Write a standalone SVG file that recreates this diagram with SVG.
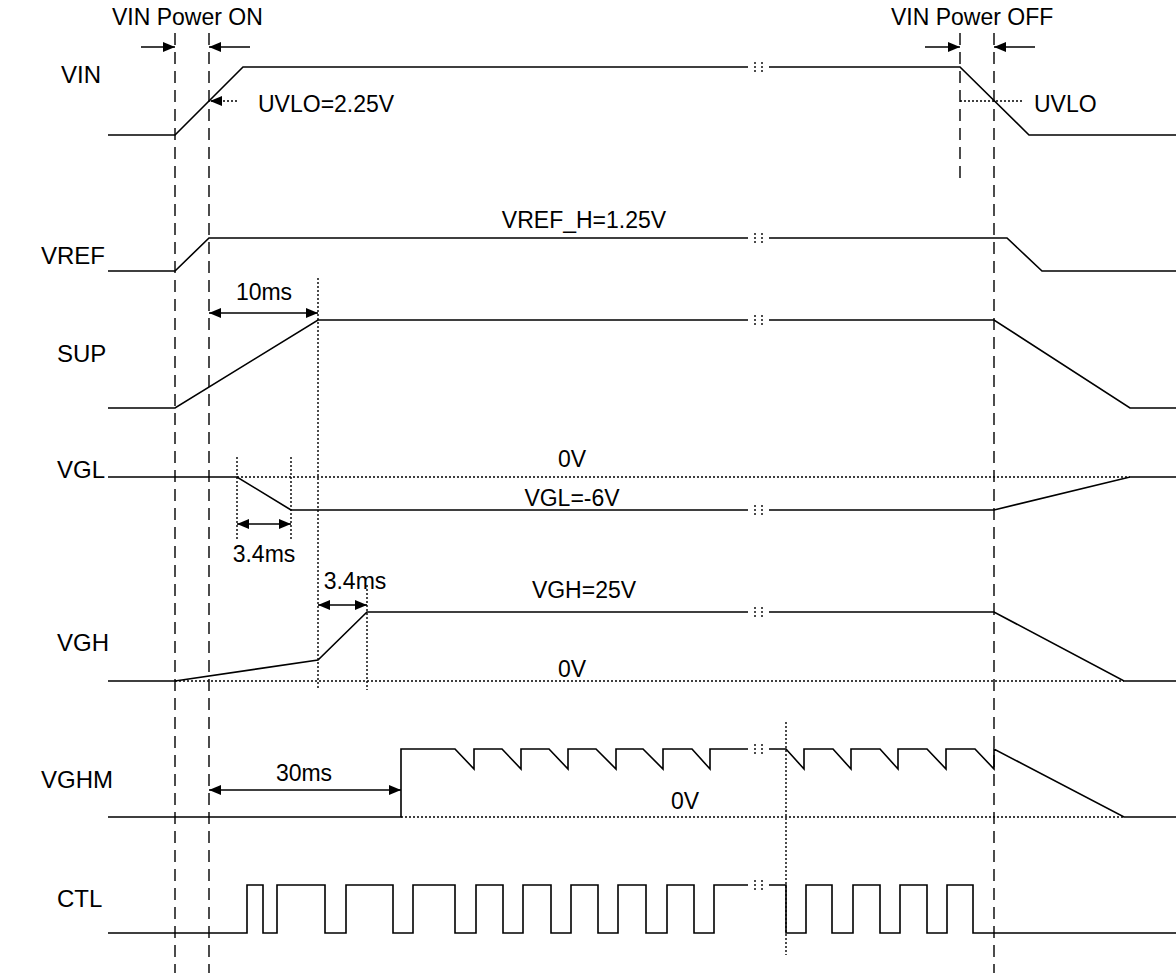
<svg xmlns="http://www.w3.org/2000/svg" width="1176" height="973" viewBox="0 0 1176 973">
<style>
.w{fill:none;stroke:#000;stroke-width:1.6;stroke-linejoin:miter}
.da{fill:none;stroke:#000;stroke-width:1.4;stroke-dasharray:12,7}
.dt{fill:none;stroke:#000;stroke-width:1.4;stroke-dasharray:2,2}
.ar{fill:none;stroke:#000;stroke-width:1.6}
.lb{font-family:"Liberation Sans",Arial,sans-serif;font-size:24px;fill:#000}
.tx{font-family:"Liberation Sans",Arial,sans-serif;font-size:23px;fill:#000}
</style>
<defs>
<marker id="ah" viewBox="0 0 12 10" refX="12" refY="5" markerWidth="12" markerHeight="10" orient="auto-start-reverse" markerUnits="userSpaceOnUse"><path d="M0,0 L12,5 L0,10 z" fill="#000"/></marker>
</defs>
<rect width="1176" height="973" fill="#fff"/>
<g id="guides">
<line class="da" x1="175" y1="33" x2="175" y2="973"/>
<line class="da" x1="209" y1="33" x2="209" y2="973"/>
<line class="da" x1="960" y1="33" x2="960" y2="185"/>
<line class="da" x1="994" y1="33" x2="994" y2="973"/>
<line class="dt" x1="318" y1="278" x2="318" y2="690"/>
<line class="dt" x1="237" y1="457" x2="237" y2="540"/>
<line class="dt" x1="291" y1="457" x2="291" y2="540"/>
<line class="dt" x1="367" y1="585" x2="367" y2="690"/>
<line class="dt" x1="786" y1="722" x2="786" y2="955"/>
<line class="dt" x1="960" y1="101" x2="1022" y2="101"/>
<line class="dt" x1="237" y1="477" x2="1130" y2="477"/>
<line class="dt" x1="175" y1="681" x2="1124" y2="681"/>
<line class="dt" x1="401" y1="817" x2="1124" y2="817"/>
</g>
<g id="VIN">
<text class="lb" x="61" y="83">VIN</text>
<path class="w" d="M108,135 H175 L243,67 H748 M769,67 H960 L1029,135 H1176"/>
<path class="dt" d="M755,62 V72 M762,62 V72"/>
</g>
<g id="VREF">
<text class="lb" x="41" y="264">VREF</text>
<path class="w" d="M108,271 H175 L209,238 H748 M769,238 H1007 L1042,271 H1176"/>
<path class="dt" d="M755,233 V243 M762,233 V243"/>
</g>
<g id="SUP">
<text class="lb" x="57" y="362">SUP</text>
<path class="w" d="M108,408 H175 L318,320 H748 M769,320 H994 L1130,408 H1176"/>
<path class="dt" d="M755,315 V325 M762,315 V325"/>
</g>
<g id="VGL">
<text class="lb" x="57" y="478">VGL</text>
<path class="w" d="M108,477 H237 L291,510 H748 M769,510 H994 L1130,477 H1176"/>
<path class="dt" d="M755,505 V515 M762,505 V515"/>
</g>
<g id="VGH">
<text class="lb" x="57" y="651">VGH</text>
<path class="w" d="M108,681 H175 L318,660 L367,612 H748 M769,612 H994 L1124,681 H1176"/>
<path class="dt" d="M755,607 V617 M762,607 V617"/>
</g>
<g id="VGHM">
<text class="lb" x="41" y="788">VGHM</text>
<path class="w" d="M108,817 H401 V749 H455 L474,769 V749 H502 L521,769 V749 H549 L568,769 V749 H596 L616,769 V749 H643 L663,769 V749 H692 L710,769 V749 H748 M769,749 H786 L804,769 V749 H833 L851,769 V749 H880 L898,769 V749 H927 L946,769 V749 H975 L994,769 V749 L1124,817 H1176"/>
<path class="dt" d="M755,744 V754 M762,744 V754"/>
</g>
<g id="CTL">
<text class="lb" x="57" y="907">CTL</text>
<path class="w" d="M108,933 H247 V885 H263 V933 H277 V885 H325 V933 H346 V885 H393 V933 H413 V885 H455 V933 H476 V885 H503 V933 H523 V885 H551 V933 H571 V885 H598 V933 H618 V885 H646 V933 H667 V885 H694 V933 H714 V885 H748 M769,885 H786 V933 H806 V885 H832 V933 H853 V885 H880 V933 H900 V885 H927 V933 H947 V885 H973 V933 H1176"/>
<path class="dt" d="M755,880 V890 M762,880 V890"/>
</g>
<g id="connectors">
<line class="ar" x1="141" y1="47" x2="175" y2="47" marker-end="url(#ah)"/>
<line class="ar" x1="250" y1="47" x2="209" y2="47" marker-end="url(#ah)"/>
<line class="ar" x1="925" y1="47" x2="960" y2="47" marker-end="url(#ah)"/>
<line class="ar" x1="1035" y1="47" x2="994" y2="47" marker-end="url(#ah)"/>
<line class="dt" x1="237" y1="101" x2="210" y2="101" marker-end="url(#ah)"/>
<line class="ar" x1="209" y1="313" x2="318" y2="313" marker-start="url(#ah)" marker-end="url(#ah)"/>
<line class="ar" x1="237" y1="524" x2="291" y2="524" marker-start="url(#ah)" marker-end="url(#ah)"/>
<line class="ar" x1="318" y1="605" x2="367" y2="605" marker-start="url(#ah)" marker-end="url(#ah)"/>
<line class="ar" x1="209" y1="790" x2="401" y2="790" marker-start="url(#ah)" marker-end="url(#ah)"/>
</g>
<g id="labels">
<text class="tx" x="112" y="25">VIN Power ON</text>
<text class="tx" x="891" y="25">VIN Power OFF</text>
<text class="tx" x="258" y="112">UVLO=2.25V</text>
<text class="tx" x="1034" y="112">UVLO</text>
<text class="tx" x="584" y="228" text-anchor="middle">VREF_H=1.25V</text>
<text class="tx" x="264" y="300" text-anchor="middle">10ms</text>
<text class="tx" x="572" y="467" text-anchor="middle">0V</text>
<text class="tx" x="572" y="506" text-anchor="middle">VGL=-6V</text>
<text class="tx" x="264" y="562" text-anchor="middle">3.4ms</text>
<text class="tx" x="355" y="589" text-anchor="middle">3.4ms</text>
<text class="tx" x="584" y="598" text-anchor="middle">VGH=25V</text>
<text class="tx" x="572" y="677" text-anchor="middle">0V</text>
<text class="tx" x="304" y="781" text-anchor="middle">30ms</text>
<text class="tx" x="685" y="809" text-anchor="middle">0V</text>
</g>
</svg>
